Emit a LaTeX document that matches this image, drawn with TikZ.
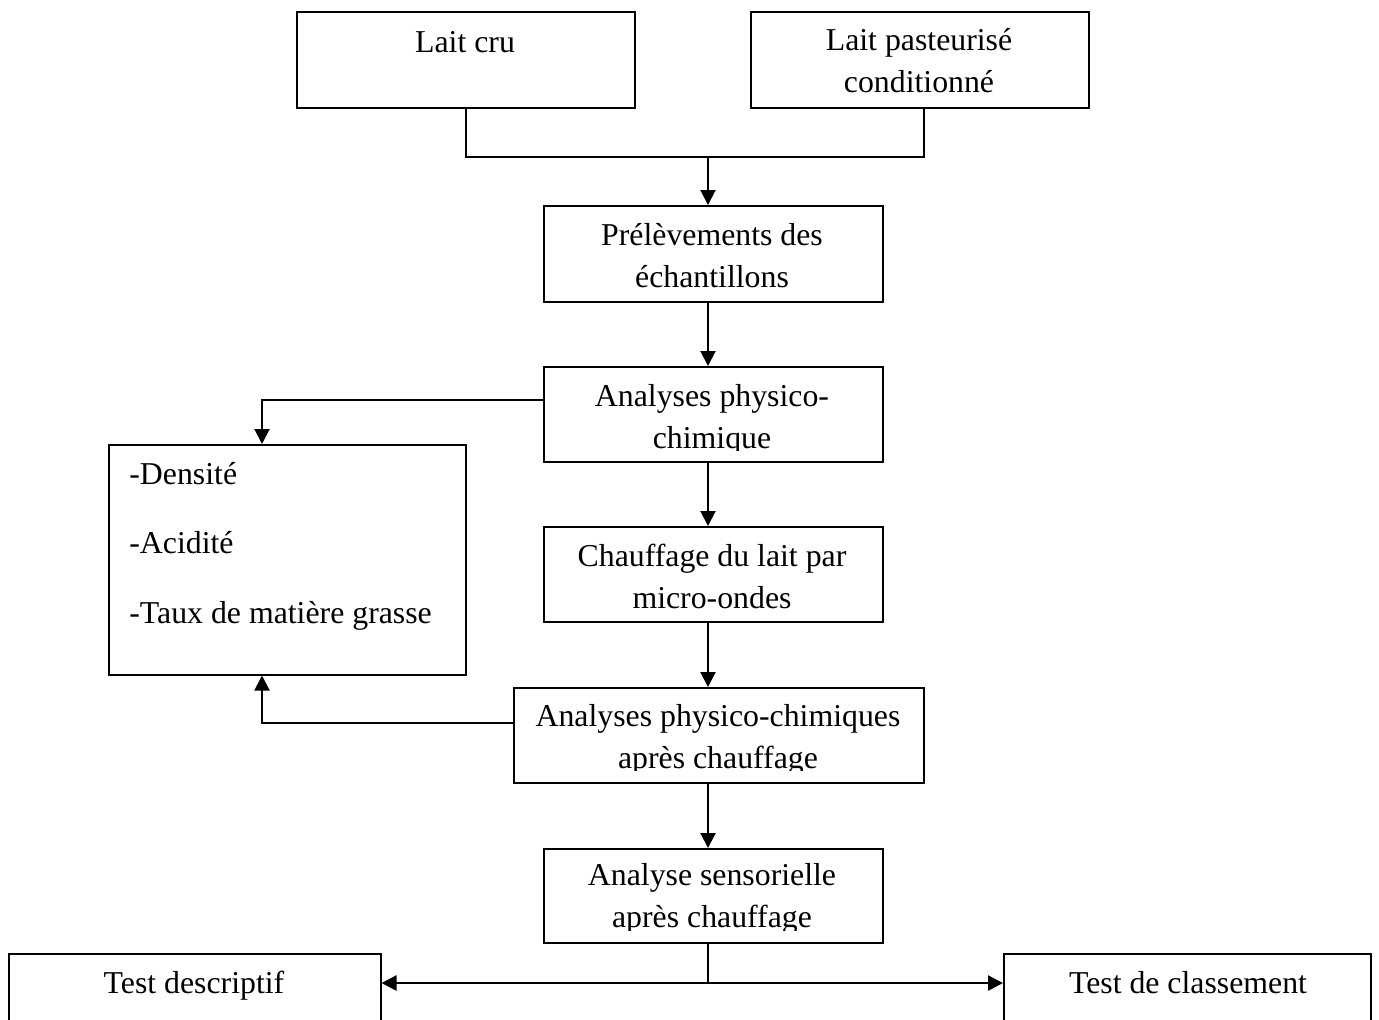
\documentclass[tikz,border=0pt]{standalone}
\usepackage{fontspec}
\setmainfont{Liberation Serif}
\usetikzlibrary{arrows.meta}
\tikzset{%
  boite/.style 2 args={
    draw,
    line width=0.75pt,
    anchor=north west,
    inner sep=0pt,
    minimum width=#1,
    minimum height=#2
  },
  texte/.style={
    align=center,
    anchor=base,
    inner sep=0pt
  },
  trait/.style={line width=0.8pt},
  fleche/.style={line width=1pt, -{Triangle[width=7.5pt,length=7.5pt]}},
  double fleche/.style={line width=1.2pt, {Triangle[width=7.5pt,length=7.5pt]}-{Triangle[width=7.5pt,length=7.5pt]}},
}

\begin{document}
\begin{tikzpicture}[x=0.5pt, y=-0.5pt, every node/.style={font=\fontsize{15.9pt}{20.75pt}\selectfont}]
  \useasboundingbox (0,0) rectangle (1379,1019);
  % boites (texte place sur la ligne de base de sa derniere ligne)
  \node[boite={169pt}{48pt}] (cru) at (296,11) {};
  \node[texte] (tcru) at (465,52) {Lait cru};
  \node[boite={169pt}{48pt}] (past) at (750,11) {};
  \node[texte] (tpast) at (919,92) {Lait pasteurisé\\conditionné};
  \node[boite={169.5pt}{48pt}] (prel) at (543,205) {};
  \node[texte] (tprel) at (712,287) {Prélèvements des\\échantillons};
  \node[boite={169.5pt}{47.5pt}] (apc) at (543,366) {};
  \begin{scope}
    \clip (543,366) rectangle (882,450);
    \node[texte] (tapc) at (712,448) {Analyses physico-\\chimique};
  \end{scope}
  \node[boite={169.5pt}{47.5pt}] (chauf) at (543,526) {};
  \node[texte] (tchauf) at (712,608) {Chauffage du lait par\\micro-ondes};
  \node[boite={205pt}{47.5pt}] (apres) at (513,687) {};
  \begin{scope}
    \clip (513,687) rectangle (923,770);
    \node[texte] (tapres) at (718,768) {Analyses physico-chimiques\\après chauffage};
  \end{scope}
  \node[boite={169.5pt}{47pt}] (sens) at (543,848) {};
  \begin{scope}
    \clip (543,848) rectangle (882,930);
    \node[texte] (tsens) at (712,927) {Analyse sensorielle\\après chauffage};
  \end{scope}
  \node[boite={178.5pt}{115pt}] (mesures) at (108,444) {};
  \node[texte, align=left, anchor=base west] (tmesures) at (129,623)
    {-Densité\\[14pt]-Acidité\\[14pt]-Taux de matière grasse};
  \node[boite={186pt}{45pt}] (descr) at (8,953) {};
  \node[texte] (tdescr) at (194,993) {Test descriptif};
  \node[boite={183.5pt}{45pt}] (classe) at (1003,953) {};
  \node[texte] (tclasse) at (1188,993) {Test de classement};

  % liaisons
  \coordinate (jonction) at (708,157);
  \coordinate (gauche) at (262,0);
  \coordinate (fourche) at (708,983);
  \draw[trait] (cru.south) |- (jonction) -| ([xshift=2pt]past.south);
  \draw[fleche] (jonction) -- (jonction |- prel.north);
  \foreach \a/\b in {prel/apc, apc/chauf, chauf/apres, apres/sens} {
    \draw[fleche] (jonction |- \a.south) -- (jonction |- \b.north);
  }
  \draw[fleche] ([yshift=7pt]apc.west) -| (gauche |- mesures.north);
  \draw[fleche] ([yshift=6pt]apres.west) -| (gauche |- mesures.south);
  \draw[trait] (jonction |- sens.south) -- (fourche);
  \draw[double fleche] (descr.east |- fourche) -- (classe.west |- fourche);
\end{tikzpicture}
\end{document}
